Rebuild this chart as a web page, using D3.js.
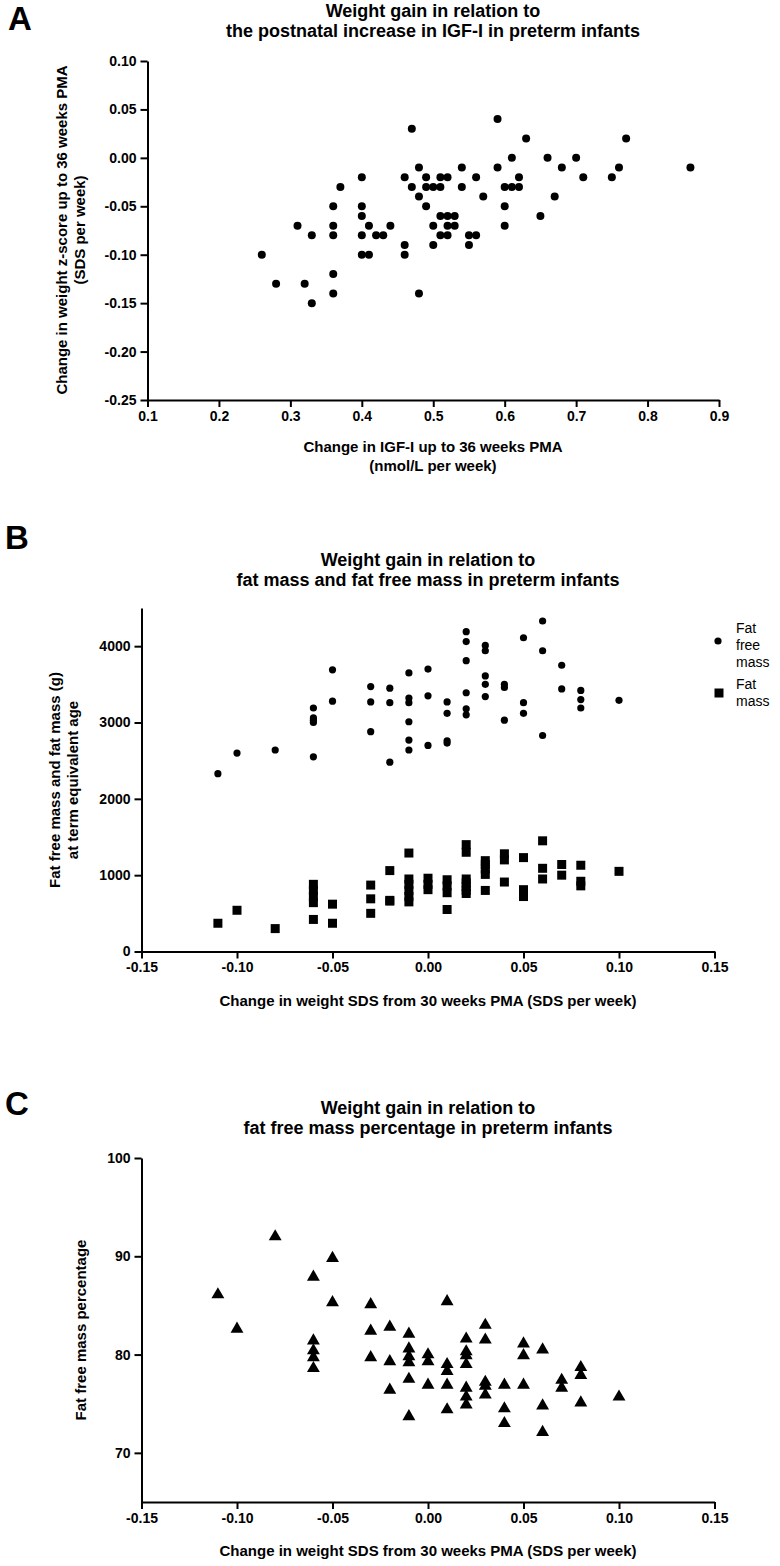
<!DOCTYPE html>
<html><head><meta charset="utf-8">
<script src="https://cdn.jsdelivr.net/npm/d3@7"></script>
<style>
body{margin:0;background:#fff}
text{font-family:"Liberation Sans",Arial,Helvetica,sans-serif;fill:#000}
</style>
</head><body>
<svg id="chart" width="780" height="1566"></svg>
<script>
// ---------- Panel A data ----------
const aIgf = [0.47,0.48,0.46,0.49,0.40,0.37,0.47,0.49,0.50,0.48,0.36,0.40,0.49,0.40,0.31,0.36,0.41,0.44,0.50,0.33,0.36,0.40,0.42,0.43,0.46,0.50,0.26,0.40,0.41,0.46,0.36,0.28,0.32,0.36,0.48,0.33,
  0.59,0.63,0.77,0.61,0.66,0.70,0.54,0.59,0.68,0.76,0.86,0.51,0.52,0.56,0.62,0.71,0.75,0.51,0.54,0.60,0.61,0.62,0.57,0.67,0.60,0.51,0.52,0.53,0.65,0.52,0.53,0.60,0.51,0.52,0.55,0.56,0.55];
const aWeight = [0.03,-0.01,-0.02,-0.02,-0.02,-0.03,-0.03,-0.03,-0.03,-0.04,-0.05,-0.05,-0.05,-0.06,-0.07,-0.07,-0.07,-0.07,-0.07,-0.08,-0.08,-0.08,-0.08,-0.08,-0.09,-0.09,-0.10,-0.10,-0.10,-0.10,-0.12,-0.13,-0.13,-0.14,-0.14,-0.15,
  0.04,0.02,0.02,0.00,0.00,0.00,-0.01,-0.01,-0.01,-0.01,-0.01,-0.02,-0.02,-0.02,-0.02,-0.02,-0.02,-0.03,-0.03,-0.03,-0.03,-0.03,-0.04,-0.04,-0.05,-0.06,-0.06,-0.06,-0.06,-0.07,-0.07,-0.07,-0.08,-0.08,-0.08,-0.08,-0.09];
const aXTicks = [0.1,0.2,0.3,0.4,0.5,0.6,0.7,0.8,0.9];
const aYTicks = [0.10,0.05,0.00,-0.05,-0.10,-0.15,-0.20,-0.25];

// ---------- Panel B data ----------
const bFfmGain = [-0.11,-0.10,-0.08,-0.06,-0.06,-0.06,-0.06,-0.06,-0.05,-0.05,-0.03,-0.03,-0.03,-0.02,-0.02,-0.02,
  -0.01,-0.01,-0.01,-0.01,-0.01,-0.01,0.00,0.00,0.00,0.01,0.01,0.01,0.01,0.02,0.02,0.02,0.02,0.02,0.02,
  0.03,0.03,0.03,0.03,0.03,0.04,0.04,0.04,0.05,0.05,0.05,0.06,0.06,0.06,0.07,0.07,0.08,0.08,0.08,0.10];
const bFfm = [2330,2600,2640,3190,3060,3030,3000,2550,3690,3280,3470,3270,2880,3450,3260,2480,
  3650,3320,3260,3010,2770,2640,3700,3350,2700,3270,3120,2760,2730,4190,4060,3810,3390,3180,3100,
  4010,3940,3610,3500,3340,3500,3460,3030,4110,3260,3120,4330,3940,2830,3750,3440,3420,3300,3190,3290];
const bFmGain = [-0.11,-0.10,-0.08,-0.06,-0.06,-0.06,-0.06,-0.06,-0.05,-0.05,-0.03,-0.03,-0.03,-0.02,-0.02,-0.02,
  -0.01,-0.01,-0.01,-0.01,-0.01,-0.01,0.00,0.00,0.00,0.01,0.01,0.01,0.01,0.02,0.02,0.02,0.02,0.02,0.02,0.02,
  0.03,0.03,0.03,0.03,0.03,0.04,0.04,0.04,0.05,0.05,0.05,0.06,0.06,0.06,0.07,0.07,0.08,0.08,0.08,0.10];
const bFm = [370,540,300,880,800,720,640,420,620,370,870,690,500,1060,670,660,
  1290,950,880,800,720,650,960,880,810,940,860,770,550,1400,1300,950,900,850,800,760,
  1190,1140,1080,1010,800,1280,1200,910,1230,810,720,1450,1090,950,1140,1000,1130,920,860,1050];
const bXTicks = [-0.15,-0.10,-0.05,0.00,0.05,0.10,0.15];
const bYTicks = [0,1000,2000,3000,4000];

// ---------- Panel C data ----------
const cGain = [-0.11,-0.10,-0.08,-0.06,-0.06,-0.06,-0.06,-0.06,-0.05,-0.05,-0.03,-0.03,-0.03,-0.02,-0.02,-0.02,
  -0.01,-0.01,-0.01,-0.01,-0.01,-0.01,0.00,0.00,0.00,0.01,0.01,0.01,0.01,0.01,
  0.02,0.02,0.02,0.02,0.02,0.02,0.02,0.03,0.03,0.03,0.03,0.03,0.04,0.04,0.04,0.05,0.05,0.05,
  0.06,0.06,0.06,0.07,0.07,0.08,0.08,0.08,0.10];
const cFfmPct = [86.1,82.6,92.0,87.9,81.4,80.4,79.7,78.6,89.8,85.3,85.1,82.4,79.7,82.8,79.3,76.4,
  82.1,80.6,79.8,79.2,77.5,73.7,80.0,79.3,76.9,85.4,79.0,78.3,76.9,74.4,
  81.6,80.3,79.9,79.0,76.6,75.7,74.9,83.0,81.5,77.2,76.8,75.9,76.9,74.5,73.0,81.1,79.9,76.9,
  80.5,74.8,72.1,77.4,76.6,78.7,77.9,75.1,75.7];
const cXTicks = [-0.15,-0.10,-0.05,0.00,0.05,0.10,0.15];
const cYTicks = [70,80,90,100];

// ---------- Drawing ----------
const svg = d3.select("#chart");
const F = "Liberation Sans, Arial, sans-serif";

function styleAxis(g){
  g.select(".domain").attr("stroke","#000").attr("stroke-width",2);
  g.selectAll(".tick line").attr("stroke","#000").attr("stroke-width",2);
  g.selectAll(".tick text").attr("font-size",14).attr("font-weight","bold").attr("fill","#000");
}
function fmt2(d){return d.toFixed(2);}

function title(lines, cx, y0){
  lines.forEach((t,i)=>svg.append("text").attr("x",cx).attr("y",y0+i*20)
    .attr("text-anchor","middle").attr("font-size",18).attr("font-weight","bold").text(t));
}
function letter(t,x,y){
  svg.append("text").attr("x",x).attr("y",y).attr("font-size",33).attr("font-weight","bold").text(t);
}
function yTitle(lines, x0, cy){
  lines.forEach((t,i)=>svg.append("text").attr("transform",`translate(${x0+i*18},${cy}) rotate(-90)`)
    .attr("text-anchor","middle").attr("font-size",15).attr("font-weight","bold").text(t));
}
function xTitle(lines, cx, y0){
  lines.forEach((t,i)=>svg.append("text").attr("x",cx).attr("y",y0+i*19)
    .attr("text-anchor","middle").attr("font-size",15).attr("font-weight","bold").text(t));
}

// Panel A
{
  const x = d3.scaleLinear([0.1,0.9],[147.5,719]);
  const y = d3.scaleLinear([-0.25,0.10],[400,61]);
  letter("A",8,30);
  title(["Weight gain in relation to","the postnatal increase in IGF-I in preterm infants"],433,17);
  svg.append("g").attr("transform",`translate(0,${y(-0.25)})`)
    .call(d3.axisBottom(x).tickValues(aXTicks).tickFormat(d3.format(".1f")).tickSize(7).tickSizeOuter(0).tickPadding(4))
    .call(styleAxis);
  svg.append("g").attr("transform",`translate(${x(0.1)},0)`)
    .call(d3.axisLeft(y).tickValues(aYTicks).tickFormat(fmt2).tickSize(7).tickSizeOuter(0).tickPadding(4))
    .call(styleAxis);
  svg.append("g").selectAll("circle").data(aIgf).join("circle")
    .attr("cx",(d)=>x(d)).attr("cy",(d,i)=>y(aWeight[i])).attr("r",4).attr("fill","#000");
  yTitle(["Change in weight z-score up to 36 weeks PMA","(SDS per week)"],67,230);
  xTitle(["Change in IGF-I up to 36 weeks PMA","(nmol/L per week)"],433,452);
}

// Panel B
{
  const x = d3.scaleLinear([-0.15,0.15],[141.5,714.5]);
  const y = d3.scaleLinear([0,4500],[951.5,608]);
  letter("B",5,549);
  title(["Weight gain in relation to","fat mass and fat free mass in preterm infants"],428,566);
  svg.append("g").attr("transform",`translate(0,${y(0)})`)
    .call(d3.axisBottom(x).tickValues(bXTicks).tickFormat(fmt2).tickSize(7).tickSizeOuter(0).tickPadding(4))
    .call(styleAxis);
  svg.append("g").attr("transform",`translate(${x(-0.15)},0)`)
    .call(d3.axisLeft(y).tickValues(bYTicks).tickFormat(d3.format("d")).tickSize(7).tickSizeOuter(0).tickPadding(4))
    .call(styleAxis);
  svg.append("g").selectAll("circle").data(bFfmGain).join("circle")
    .attr("cx",d=>x(d)).attr("cy",(d,i)=>y(bFfm[i])).attr("r",3.6).attr("fill","#000");
  const sq = d3.symbol(d3.symbolSquare,81);
  svg.append("g").selectAll("path").data(bFmGain).join("path")
    .attr("d",sq).attr("transform",(d,i)=>`translate(${x(d)},${y(bFm[i])})`).attr("fill","#000");
  yTitle(["Fat free mass and fat mass (g)","at term equivalent age"],60,780);
  xTitle(["Change in weight SDS from 30 weeks PMA (SDS per week)"],428,1006);
  // legend
  const lg = svg.append("g");
  lg.append("circle").attr("cx",718).attr("cy",641).attr("r",3.6).attr("fill","#000");
  ["Fat","free","mass"].forEach((t,i)=>lg.append("text").attr("x",736).attr("y",633+i*17).attr("font-size",14).text(t));
  lg.append("path").attr("d",sq).attr("transform","translate(719,693)").attr("fill","#000");
  ["Fat","mass"].forEach((t,i)=>lg.append("text").attr("x",736).attr("y",689+i*17).attr("font-size",14).text(t));
}

// Panel C
{
  const x = d3.scaleLinear([-0.15,0.15],[141.5,714.5]);
  const y = d3.scaleLinear([65,100],[1502,1158]);
  letter("C",5,1115);
  title(["Weight gain in relation to","fat free mass percentage in preterm infants"],428,1114);
  svg.append("g").attr("transform",`translate(0,${y(65)})`)
    .call(d3.axisBottom(x).tickValues(cXTicks).tickFormat(fmt2).tickSize(7).tickSizeOuter(0).tickPadding(4))
    .call(styleAxis);
  svg.append("g").attr("transform",`translate(${x(-0.15)},0)`)
    .call(d3.axisLeft(y).tickValues(cYTicks).tickFormat(d3.format("d")).tickSize(7).tickSizeOuter(0).tickPadding(4))
    .call(styleAxis);
  const tri = d3.symbol(d3.symbolTriangle,72);
  svg.append("g").selectAll("path").data(cGain).join("path")
    .attr("d",tri).attr("transform",(d,i)=>`translate(${x(d)},${y(cFfmPct[i])})`).attr("fill","#000");
  yTitle(["Fat free mass percentage"],86,1330);
  xTitle(["Change in weight SDS from 30 weeks PMA (SDS per week)"],428,1556);
}
</script>
</body></html>
